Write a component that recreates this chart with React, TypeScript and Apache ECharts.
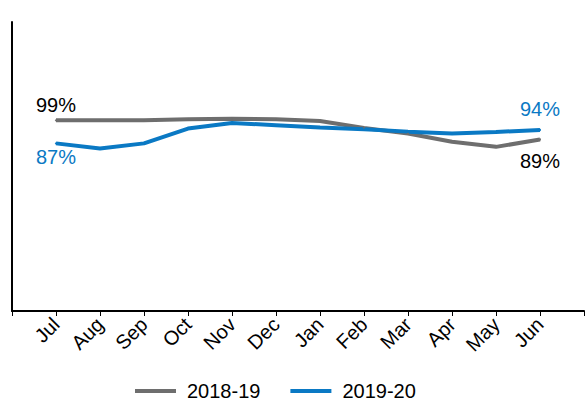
import React, { useEffect, useRef } from "react";
import * as echarts from "echarts";

const months = ["Jul", "Aug", "Sep", "Oct", "Nov", "Dec", "Jan", "Feb", "Mar", "Apr", "May", "Jun"];
const series2018 = [99, 99, 99, 99.5, 99.8, 99.5, 98.6, 95, 92.1, 87.8, 85.2, 89];
const series2019 = [87, 84.3, 87, 94.7, 97.6, 96.4, 95.2, 94.3, 93.1, 92.1, 92.9, 94];
const seriesNames = ["2018-19", "2019-20"];

export default function App() {
  const ref = useRef<HTMLDivElement>(null);
  useEffect(() => {
    if (!ref.current) return;
    const chart = echarts.init(ref.current, null, { renderer: "svg" });
    const axisCats = ["", ...months, ""];
    const font = "'Liberation Sans', Arial, sans-serif";
    const mk = (
      vals: number[],
      firstPos: string,
      lastPos: string,
      labelColor: [string, string],
      dist: [number, number]
    ) => [
      null,
      ...vals.map((v, i) => {
        const isFirst = i === 0;
        const isLast = i === vals.length - 1;
        if (!isFirst && !isLast) return v;
        return {
          value: v,
          label: {
            show: true,
            position: isFirst ? firstPos : lastPos,
            distance: isFirst ? dist[0] : dist[1],
            formatter: Math.round(v) + "%",
            color: isFirst ? labelColor[0] : labelColor[1],
            fontSize: 20,
            fontFamily: font,
          },
        };
      }),
      null,
    ];
    chart.setOption({
      animation: false,
      grid: { left: 12, right: 4, top: 22, bottom: 92 },
      xAxis: {
        type: "category",
        boundaryGap: false,
        data: axisCats,
        axisLine: { lineStyle: { color: "#000", width: 2 } },
        axisTick: { show: true, length: 5, lineStyle: { color: "#000", width: 1 } },
        axisLabel: {
          rotate: 45,
          color: "#000",
          fontSize: 20,
          fontFamily: font,
          interval: 0,
          margin: 10,
        },
        splitLine: { show: false },
      },
      yAxis: {
        type: "value",
        min: 0,
        max: 150,
        axisLine: { show: true, lineStyle: { color: "#000", width: 2 } },
        axisTick: { show: false },
        axisLabel: { show: false },
        splitLine: { show: false },
      },
      legend: {
        bottom: 0,
        left: 130,
        padding: [5, 5, 2, 5],
        icon: "rect",
        itemWidth: 41,
        itemHeight: 4,
        itemGap: 30,
        textStyle: { fontSize: 20, color: "#000", fontFamily: font, padding: [0, 0, 0, 6] },
        data: seriesNames,
      },
      series: [
        {
          name: seriesNames[0],
          type: "line",
          data: mk(series2018, "top", "bottom", ["#000", "#000"], [4, 10]),
          symbol: "circle",
          symbolSize: 2,
          showSymbol: true,
          lineStyle: { color: "#6e6e6e", width: 4 },
          itemStyle: { color: "#6e6e6e" },
        },
        {
          name: seriesNames[1],
          type: "line",
          data: mk(series2019, "bottom", "top", ["#0a79c4", "#0a79c4"], [3, 10]),
          symbol: "circle",
          symbolSize: 2,
          showSymbol: true,
          lineStyle: { color: "#0a79c4", width: 4 },
          itemStyle: { color: "#0a79c4" },
        },
      ],
    });
    return () => chart.dispose();
  }, []);
  return <div ref={ref} style={{ width: 588, height: 403, position: "absolute", left: 0, top: 0 }} />;
}
